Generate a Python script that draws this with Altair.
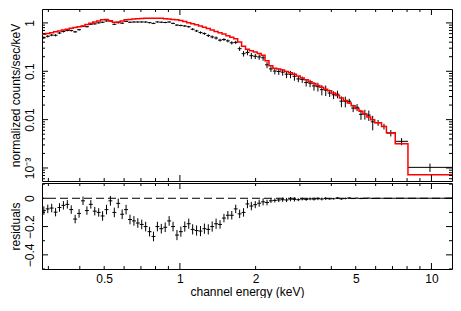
import altair as alt
import pandas as pd

# ---- data (energy bins in keV) ----
edges = [0.2827, 0.2930, 0.3038, 0.3148, 0.3263, 0.3382, 0.3505, 0.3633, 0.3765, 0.3903,
         0.4046, 0.4194, 0.4346, 0.4505, 0.4670, 0.4840, 0.5017, 0.5200, 0.5389, 0.5586,
         0.5790, 0.6001, 0.6220, 0.6447, 0.6683, 0.6926, 0.7178, 0.7441, 0.7712, 0.7994,
         0.8285, 0.8587, 0.8900, 0.9225, 0.9561, 0.9911, 1.027, 1.065, 1.104, 1.144,
         1.186, 1.229, 1.274, 1.320, 1.368, 1.418, 1.470, 1.524, 1.579, 1.637,
         1.697, 1.759, 1.823, 1.889, 1.958, 2.029, 2.104, 2.180, 2.260, 2.342,
         2.428, 2.516, 2.608, 2.703, 2.802, 2.904, 3.010, 3.120, 3.234, 3.352,
         3.474, 3.601, 3.733, 3.868, 4.010, 4.156, 4.308, 4.465, 4.628, 4.797,
         4.972, 5.153, 5.341, 5.536, 5.738, 5.947, 6.333, 6.622, 7.178, 8.065,
         12.07]

model = [0.580, 0.604, 0.628, 0.654, 0.683, 0.714, 0.743, 0.774, 0.801, 0.830,
         0.868, 0.923, 0.982, 1.045, 1.102, 1.157, 1.178, 1.112, 1.036, 1.045,
         1.102, 1.157, 1.183, 1.204, 1.220, 1.231, 1.242, 1.248, 1.248, 1.248,
         1.248, 1.226, 1.204, 1.178, 1.162, 1.122, 1.064, 1.013, 0.961, 0.911,
         0.864, 0.816, 0.767, 0.714, 0.668, 0.625, 0.593, 0.545, 0.508, 0.471,
         0.403, 0.331, 0.284, 0.265, 0.249, 0.233, 0.215, 0.166, 0.130, 0.116,
         0.111, 0.106, 0.0991, 0.0927, 0.0868, 0.0794, 0.0727, 0.0665, 0.0609, 0.0557,
         0.0510, 0.0467, 0.0427, 0.0395, 0.0356, 0.0316, 0.0281, 0.0249, 0.0220, 0.0193,
         0.0170, 0.0149, 0.0130, 0.0114, 0.0100,
         0.00864, 0.00724, 0.00538, 0.00316, 0.000724]

flux = [0.493, 0.529, 0.559, 0.556, 0.618, 0.664, 0.700, 0.694, 0.654, 0.723,
        0.850, 0.836, 0.939, 0.954, 1.002, 1.032, 1.098, 1.094, 0.936, 1.009,
        0.989, 1.077, 1.033, 1.044, 1.045, 1.046, 1.042, 1.012, 0.978, 1.048,
        1.033, 1.021, 1.044, 0.978, 0.902, 0.886, 0.864, 0.833, 0.741, 0.683,
        0.632, 0.601, 0.547, 0.514, 0.488, 0.440, 0.453, 0.425, 0.388, 0.396,
        0.293, 0.231, 0.244, 0.210, 0.204, 0.198, 0.190, 0.136, 0.112, 0.101,
        0.099, 0.096, 0.087, 0.0867, 0.0788, 0.0694, 0.0677, 0.0585, 0.0569, 0.0497,
        0.0480, 0.0417, 0.0407, 0.0355, 0.0326, 0.0336, 0.0241, 0.0239, 0.0240, 0.0173,
        0.0180, 0.0129, 0.0130, 0.0124, 0.0090,
        0.00864, 0.00724, 0.00528, 0.00356, 0.00103]

err = [0.030, 0.030, 0.030, 0.030, 0.030, 0.030, 0.030, 0.030, 0.030, 0.030,
       0.030, 0.030, 0.030, 0.030, 0.030, 0.034, 0.034, 0.034, 0.034, 0.034,
       0.034, 0.034, 0.034, 0.034, 0.034, 0.034, 0.034, 0.034, 0.034, 0.034,
       0.034, 0.034, 0.034, 0.034, 0.036, 0.036, 0.036, 0.036, 0.036, 0.036,
       0.036, 0.036, 0.036, 0.036, 0.036, 0.030, 0.030, 0.030, 0.030, 0.030,
       0.030, 0.030, 0.030, 0.030, 0.025, 0.025, 0.025, 0.020, 0.015, 0.015,
       0.015, 0.015, 0.015, 0.015, 0.015, 0.010, 0.010, 0.010, 0.010, 0.010,
       0.010, 0.010, 0.010, 0.006, 0.006, 0.006, 0.006, 0.006, 0.003, 0.003,
       0.003, 0.003, 0.003, 0.003, 0.003,
       0.0012, 0.0010, 0.0008, 0.0006, 0.0002]

resid = [-0.087, -0.075, -0.069, -0.098, -0.065, -0.050, -0.043, -0.080, -0.147, -0.107,
         -0.018, -0.087, -0.043, -0.091, -0.100, -0.125, -0.080, -0.018, -0.100, -0.036,
         -0.113, -0.080, -0.150, -0.160, -0.175, -0.185, -0.200, -0.236, -0.270, -0.200,
         -0.215, -0.205, -0.160, -0.200, -0.260, -0.236, -0.200, -0.180, -0.220, -0.228,
         -0.232, -0.215, -0.220, -0.200, -0.180, -0.185, -0.140, -0.120, -0.120, -0.075,
         -0.110, -0.100, -0.040, -0.055, -0.045, -0.035, -0.025, -0.030, -0.018, -0.015,
         -0.012, -0.010, -0.012, -0.006, -0.008, -0.010, -0.005, -0.008, -0.004, -0.006,
         -0.003, -0.005, -0.002, -0.004, -0.003, 0.002, -0.004, -0.001, 0.002, -0.002,
         0.001, -0.002, 0.000, 0.001, -0.001,
         0.000, 0.000, -0.0001, 0.0004, 0.0003]

# axis tick values
x_labels = [0.5, 1, 2, 5, 10]
x_major = [1, 10]
x_minor = [0.3, 0.4, 0.5, 0.6, 0.7, 0.8, 0.9, 2, 3, 4, 5, 6, 7, 8, 9]
y_major = [0.001, 0.01, 0.1, 1]
y_minor = [0.0006, 0.0007, 0.0008, 0.0009,
           0.002, 0.003, 0.004, 0.005, 0.006, 0.007, 0.008, 0.009,
           0.02, 0.03, 0.04, 0.05, 0.06, 0.07, 0.08, 0.09,
           0.2, 0.3, 0.4, 0.5, 0.6, 0.7, 0.8, 0.9]
r_major = [0, -0.2, -0.4]
r_minor = [0.1, -0.1, -0.3, -0.5]
zero_line = [0]

W, H1, H2 = 410, 172, 86
XDOM = [0.283, 12.07]
YDOM = [5.38e-4, 1.94]
RDOM = [-0.5, 0.108]
FONT = "Liberation Sans"
MAJ, MIN = 6, 3

bins = pd.DataFrame({"lo": edges[:-1], "hi": edges[1:], "model": model,
                     "flux": flux, "err": err, "resid": resid})
bins["e"] = (bins["lo"] * bins["hi"]) ** 0.5
bins["f_lo"] = bins["flux"] - bins["err"]
bins["f_hi"] = bins["flux"] + bins["err"]
bins["r_lo"] = bins["resid"] - bins["err"]
bins["r_hi"] = bins["resid"] + bins["err"]
step = pd.DataFrame({"x": edges, "m": model + [model[-1]]})

xs = alt.Scale(type="log", domain=XDOM, nice=False)
ys = alt.Scale(type="log", domain=YDOM, nice=False)
rs = alt.Scale(domain=RDOM, nice=False, zero=False)

common_axis = dict(tickSize=0, domain=False, grid=False, labelFont=FONT, titleFont=FONT,
                   labelFontSize=12, titleFontSize=12, labelColor="black",
                   titleColor="black", titleFontWeight="normal")

y_top_axis = alt.Axis(values=y_major, labelAngle=-90, labelAlign="center",
                      labelBaseline="bottom", labelPadding=6, titlePadding=1,
                      labelExpr="datum.value < 0.005 ? '10⁻³' : datum.value < 0.05 ? '0.01' : datum.value < 0.5 ? '0.1' : '1'",
                      **common_axis)
y_bot_axis = alt.Axis(values=r_major, labelAngle=-90, labelAlign="center",
                      labelBaseline="bottom", labelPadding=6, titlePadding=1,
                      labelExpr="datum.value == 0 ? '0' : datum.value < -0.3 ? '−0.4' : '−0.2'",
                      **common_axis)
x_bot_axis = alt.Axis(values=x_labels, format="~g", labelPadding=4, titlePadding=2,
                      **common_axis)

YT = "normalized counts/sec/keV"
RT = "residuals"
XT = "channel energy (keV)"


def tick_layers(H, yscale, yaxis, ytitle, ymaj, ymin, xaxis):
    layers = []
    for vals, L in ((x_major, MAJ), (x_minor, MIN)):
        d = pd.DataFrame({"v": vals})
        base = alt.Chart(d).mark_rule(color="black", strokeWidth=1)
        xenc = alt.X("v:Q", scale=xs, axis=xaxis, title=XT)
        layers.append(base.encode(x=xenc, y=alt.value(0), y2=alt.value(L)))
        layers.append(base.encode(x=xenc, y=alt.value(H), y2=alt.value(H - L)))
    for vals, L in ((ymaj, MAJ), (ymin, MIN)):
        d = pd.DataFrame({"v": vals})
        base = alt.Chart(d).mark_rule(color="black", strokeWidth=1)
        yenc = alt.Y("v:Q", scale=yscale, axis=yaxis, title=ytitle)
        layers.append(base.encode(y=yenc, x=alt.value(0), x2=alt.value(L)))
        layers.append(base.encode(y=yenc, x=alt.value(W), x2=alt.value(W - L)))
    return layers


# ---- top panel ----
tb = alt.Chart(bins)
top_v = tb.mark_rule(color="black", strokeWidth=1, clip=True).encode(
    x=alt.X("e:Q", scale=xs, axis=None, title=XT),
    y=alt.Y("f_lo:Q", scale=ys, axis=y_top_axis, title=YT),
    y2="f_hi:Q")
top_h = tb.mark_rule(color="black", strokeWidth=1, clip=True).encode(
    x=alt.X("lo:Q", scale=xs, axis=None, title=XT), x2="hi:Q",
    y=alt.Y("flux:Q", scale=ys, axis=y_top_axis, title=YT))
top_m = alt.Chart(step).mark_line(color="#ff0000", strokeWidth=1.5,
                                  interpolate="step-after", clip=True).encode(
    x=alt.X("x:Q", scale=xs, axis=None, title=XT),
    y=alt.Y("m:Q", scale=ys, axis=y_top_axis, title=YT))
top = alt.layer(top_v, top_h, top_m,
                *tick_layers(H1, ys, y_top_axis, YT, y_major, y_minor, None)
                ).properties(width=W, height=H1)

# ---- bottom panel ----
bz = alt.Chart(pd.DataFrame({"z": zero_line})).mark_rule(
    color="black", strokeWidth=1, strokeDash=[8, 4]).encode(
    y=alt.Y("z:Q", scale=rs, axis=y_bot_axis, title=RT))
bot_v = tb.mark_rule(color="black", strokeWidth=1, clip=True).encode(
    x=alt.X("e:Q", scale=xs, axis=x_bot_axis, title=XT),
    y=alt.Y("r_lo:Q", scale=rs, axis=y_bot_axis, title=RT),
    y2="r_hi:Q")
bot_h = tb.mark_rule(color="black", strokeWidth=1, clip=True).encode(
    x=alt.X("lo:Q", scale=xs, axis=x_bot_axis, title=XT), x2="hi:Q",
    y=alt.Y("resid:Q", scale=rs, axis=y_bot_axis, title=RT))
bottom = alt.layer(bz, bot_v, bot_h,
                   *tick_layers(H2, rs, y_bot_axis, RT, r_major, r_minor, x_bot_axis)
                   ).properties(width=W, height=H2)

chart = alt.vconcat(top, bottom, spacing=0).properties(
    padding={"left": 0, "top": 0, "right": 0, "bottom": 0}
).configure_view(stroke="black", strokeWidth=1).configure_axis(grid=False)

chart.save("out.html", embed_options={"renderer": "svg", "actions": False})
